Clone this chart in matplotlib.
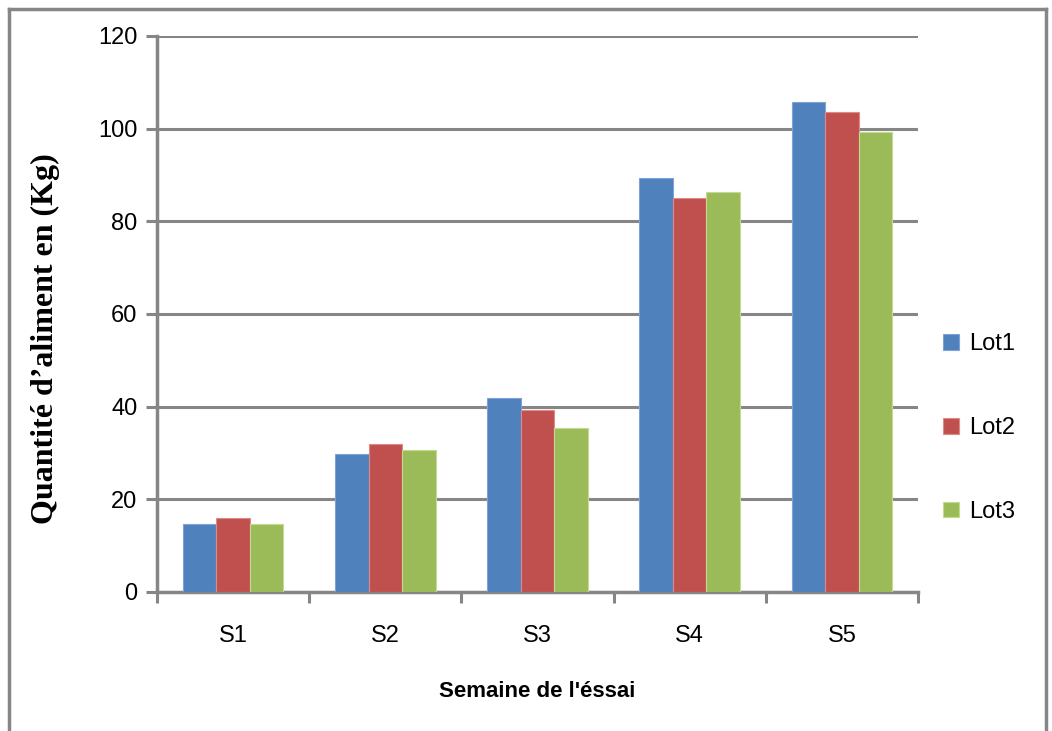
import numpy as np
import matplotlib
matplotlib.use("Agg")
import matplotlib.pyplot as plt
from matplotlib.lines import Line2D

# donnees
semaines = ["S1", "S2", "S3", "S4", "S5"]
lot1 = [14.6, 29.7, 41.8, 89.3, 105.8]
lot2 = [16.0, 31.9, 39.3, 85.0, 103.6]
lot3 = [14.6, 30.6, 35.3, 86.3, 99.3]
lots = ["Lot1", "Lot2", "Lot3"]
couleurs = ["#4F81BD", "#C0504D", "#9BBB59"]
bords = ["#7FA3D6", "#E08A88", "#C4DA8E"]

gris = "#868686"
plt.rcParams['font.family'] = ['Liberation Sans', 'DejaVu Sans']

fig = plt.figure(figsize=(10.52, 7.31), dpi=100)
ax = fig.add_axes([157/1052, 1-592/731, (918-157)/1052, (592-36)/731])

x = np.arange(len(semaines))
w = 0.22
for i, (vals, c, e, lab) in enumerate(zip([lot1, lot2, lot3], couleurs, bords, lots)):
    ax.bar(x + (i-1)*w, vals, w, color=c, edgecolor=e, linewidth=0.8, label=lab, zorder=3)

ax.set_xlim(-0.5, 4.5)
ax.set_ylim(0, 120)
ax.set_yticks(range(0, 121, 20))
ax.yaxis.grid(True, color=gris, linewidth=2.2, zorder=0)
ax.set_axisbelow(True)

ax.set_xticks(np.arange(-0.5, 5, 1))
ax.set_xticklabels([])
ax.set_xticks(x, minor=True)
ax.set_xticklabels(semaines, minor=True, fontsize=17)
ax.tick_params(axis='x', which='minor', length=0, pad=24)
ax.tick_params(axis='x', which='major', length=8, width=2.2, color=gris, direction='out')
ax.tick_params(axis='y', length=8, width=2.2, color=gris, labelsize=17, pad=6)

for s in ['top', 'right']:
    ax.spines[s].set_visible(False)
for s in ['left', 'bottom']:
    ax.spines[s].set_color(gris)
    ax.spines[s].set_linewidth(2.5)

ax.set_xlabel("Semaine de l'éssai", fontsize=16, fontweight='bold', labelpad=24)
ax.set_ylabel("Quantité d’aliment en (Kg)", fontsize=23, fontweight='bold',
              family=['Liberation Serif', 'DejaVu Serif'])
ax.yaxis.set_label_coords(-0.127, 0.455)

fig.legend(loc='center left', bbox_to_anchor=(922/1052, 1-428/731), frameon=False,
           labelspacing=2.62, handlelength=0.65, handleheight=0.65,
           handletextpad=0.45, prop={'size': 17})

# cadre autour du graphique
fig.add_artist(Line2D([9/1052, 9/1052], [0, 1-9/731], color=gris, linewidth=2.5, transform=fig.transFigure))
fig.add_artist(Line2D([9/1052, 1046/1052], [1-9/731, 1-9/731], color=gris, linewidth=2.5, transform=fig.transFigure))
fig.add_artist(Line2D([1046/1052, 1046/1052], [0, 1-9/731], color=gris, linewidth=2.5, transform=fig.transFigure))

fig.savefig("out.png", dpi=100)
